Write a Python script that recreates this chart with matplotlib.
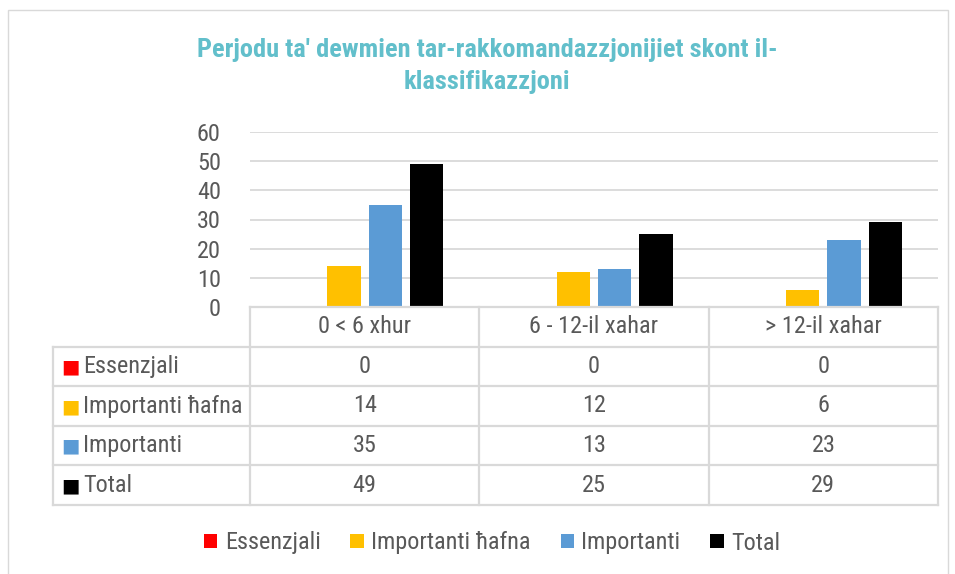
import matplotlib
matplotlib.use("Agg")
import matplotlib.pyplot as plt
from matplotlib import font_manager
from matplotlib.patches import Rectangle

categories = ["0 < 6 xhur", "6 - 12-il xahar", "> 12-il xahar"]
series_names = ["Essenzjali", "Importanti ħafna", "Importanti", "Total"]
essenzjali = [0, 0, 0]
importanti_hafna = [14, 12, 6]
importanti = [35, 13, 23]
total = [49, 25, 29]
series_values = [essenzjali, importanti_hafna, importanti, total]
colors = ["#FF0000", "#FFC000", "#5B9BD5", "#000000"]
title = "Perjodu ta' dewmien tar-rakkomandazzjonijiet skont il-\nklassifikazzjoni"
yticks = [0, 10, 20, 30, 40, 50, 60]

def pick_font(names):
    for n in names:
        try:
            font_manager.findfont(n, fallback_to_default=False)
            return n
        except Exception:
            continue
    return "DejaVu Sans"

fam = pick_font(["Roboto Condensed", "Liberation Sans Narrow", "Open Sans Condensed", "Roboto"])
plt.rcParams['font.family'] = [fam, 'DejaVu Sans']

W, H = 955, 574
fig = plt.figure(figsize=(W / 100, H / 100), dpi=100)

def fx(px):
    return px / W

def fy(py):
    return 1 - py / H

txt_color = "#595959"
grid_color = "#D9D9D9"
fs = 17.5

# outer frame
fig.patches.append(Rectangle((fx(8), fy(590)), fx(948) - fx(8), fy(10) - fy(590),
                             transform=fig.transFigure, fill=False, edgecolor="#D9D9D9", lw=1))

# main bar axes
ax = fig.add_axes([fx(250), fy(307), fx(938) - fx(250), fy(132) - fy(307)])
n = len(series_names)
width = 0.145
step = 0.18
xs = list(range(len(categories)))
bars = []
for i, (name, vals, c) in enumerate(zip(series_names, series_values, colors)):
    off = (i - (n - 1) / 2) * step
    b = ax.bar([x + off for x in xs], vals, width=width, color=c, label=name, zorder=3)
    bars.append(b)
ax.set_xlim(-0.5, len(categories) - 0.5)
ax.set_ylim(0, 60)
ax.set_yticks(yticks)
ax.set_yticklabels([str(t) for t in yticks], fontsize=fs, color=txt_color)
ax.tick_params(axis='y', length=0, pad=21)
ax.set_xticks([])
ax.grid(axis='y', color=grid_color, lw=1.3, zorder=0)
for s in ax.spines.values():
    s.set_visible(False)

# data table
x_left = -0.5 - (250 - 53) / ((938 - 250) / 3)
tax = fig.add_axes([fx(53), fy(505), fx(938) - fx(53), fy(307) - fy(505)])
tax.set_xlim(x_left, len(categories) - 0.5)
tax.set_ylim(5, 0)
tax.axis('off')
lc = grid_color
lw = 1.6
tax.plot([-0.5, len(categories) - 0.5], [0, 0], color=lc, lw=lw, clip_on=False)
for j in range(len(categories) + 1):
    tax.plot([j - 0.5, j - 0.5], [0, 5], color=lc, lw=lw, clip_on=False)
tax.plot([x_left, x_left], [1, 5], color=lc, lw=lw, clip_on=False)
for r in range(1, 6):
    tax.plot([x_left, len(categories) - 0.5], [r, r], color=lc, lw=lw, clip_on=False)
for j, cat in enumerate(categories):
    tax.text(j, 0.5, cat, ha='center', va='center', fontsize=fs, color=txt_color)
for i, (name, vals, c) in enumerate(zip(series_names, series_values, colors)):
    r = i + 1
    tax.text(x_left + 0.035, r + 0.52, "■", ha='left', va='center', fontsize=14, color=c,
             family='DejaVu Sans')
    tax.text(x_left + 0.13, r + 0.5, name, ha='left', va='center', fontsize=fs, color=txt_color)
    for j, v in enumerate(vals):
        tax.text(j, r + 0.5, str(v), ha='center', va='center', fontsize=fs, color=txt_color)

# legend
leg = fig.legend(handles=bars, labels=series_names, loc='center', bbox_to_anchor=(fx(492), fy(543)),
                 ncol=4, frameon=False, fontsize=fs, handlelength=0.55, handleheight=0.55,
                 handletextpad=0.3, columnspacing=1.23)
for t in leg.get_texts():
    t.set_color(txt_color)

fig.text(fx(487), fy(66), title, ha='center', va='center', fontsize=19, fontweight='bold',
         color="#62BFCB", linespacing=1.45)

fig.savefig("out.png", dpi=100)
